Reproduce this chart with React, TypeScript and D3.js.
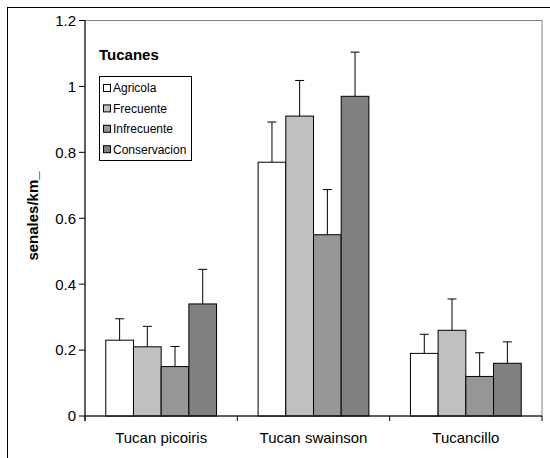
import React from "react";
import * as d3 from "d3";

const categories = ["Tucan picoiris", "Tucan swainson", "Tucancillo"];
const seriesNames = ["Agricola", "Frecuente", "Infrecuente", "Conservacion"];
const agricola = [0.23, 0.77, 0.19];
const frecuente = [0.21, 0.91, 0.26];
const infrecuente = [0.15, 0.55, 0.12];
const conservacion = [0.34, 0.97, 0.16];
const agricolaErr = [0.065, 0.122, 0.058];
const frecuenteErr = [0.062, 0.108, 0.095];
const infrecuenteErr = [0.061, 0.137, 0.072];
const conservacionErr = [0.105, 0.134, 0.065];
const yTicks = [0, 0.2, 0.4, 0.6, 0.8, 1, 1.2];
const fills = ["#ffffff", "#c0c0c0", "#969696", "#808080"];

const seriesValues = [agricola, frecuente, infrecuente, conservacion];
const seriesErrors = [agricolaErr, frecuenteErr, infrecuenteErr, conservacionErr];

const W = 550;
const H = 458;
const plot = { left: 85, right: 542, top: 20.5, bottom: 416 };
const font = "Arial, 'Liberation Sans', sans-serif";

export default function App() {
  const x = d3
    .scaleBand<string>()
    .domain(categories)
    .range([plot.left, plot.right])
    .paddingInner(0)
    .paddingOuter(0);
  const barW = x.bandwidth() / (seriesNames.length + 1.5);
  const groupPad = (x.bandwidth() - barW * seriesNames.length) / 2;
  const y = d3.scaleLinear().domain([0, 1.2]).range([plot.bottom, plot.top]);

  const boundaries = [plot.left, ...categories.map((c) => (x(c) as number) + x.bandwidth())];

  return (
    <svg
      width={W}
      height={H}
      style={{ position: "absolute", left: 0, top: 0, background: "#fff" }}
      fontFamily={font}
    >
      <rect x={0} y={0} width={W} height={H} fill="#fff" />
      {/* outer chart frame */}
      <rect x={7.5} y={7.5} width={W + 20} height={H + 20} fill="none" stroke="#000" strokeWidth={1} />

      {/* plot area border */}
      <rect
        x={plot.left}
        y={plot.top}
        width={plot.right - plot.left}
        height={plot.bottom - plot.top}
        fill="none"
        stroke="#808080"
        strokeWidth={1}
      />

      {/* bars */}
      {seriesValues.map((vals, si) =>
        vals.map((v, ci) => {
          const bx = (x(categories[ci]) as number) + groupPad + si * barW;
          return (
            <rect
              key={`b${si}-${ci}`}
              x={bx}
              y={y(v)}
              width={barW}
              height={y(0) - y(v)}
              fill={fills[si]}
              stroke="#000"
              strokeWidth={1}
            />
          );
        })
      )}

      {/* error bars (upper) */}
      {seriesValues.map((vals, si) =>
        vals.map((v, ci) => {
          const cx = (x(categories[ci]) as number) + groupPad + si * barW + barW / 2;
          const top = y(v + seriesErrors[si][ci]);
          return (
            <g key={`e${si}-${ci}`} stroke="#000" strokeWidth={1}>
              <line x1={cx} x2={cx} y1={y(v)} y2={top} />
              <line x1={cx - 4.5} x2={cx + 4.5} y1={top} y2={top} />
            </g>
          );
        })
      )}

      {/* y axis */}
      <line x1={plot.left} x2={plot.left} y1={plot.top} y2={plot.bottom + 5} stroke="#000" />
      {yTicks.map((t) => (
        <g key={`yt${t}`}>
          <line x1={plot.left - 6} x2={plot.left} y1={y(t)} y2={y(t)} stroke="#000" />
          <text
            x={plot.left - 9}
            y={y(t)}
            dy="0.36em"
            textAnchor="end"
            fontSize={15}
            fill="#000"
          >
            {d3.format("")(t)}
          </text>
        </g>
      ))}

      {/* x axis */}
      <line x1={plot.left} x2={plot.right} y1={plot.bottom} y2={plot.bottom} stroke="#000" />
      {boundaries.map((bx, i) => (
        <line key={`xt${i}`} x1={bx} x2={bx} y1={plot.bottom} y2={plot.bottom + 5} stroke="#000" />
      ))}
      {categories.map((c) => (
        <text
          key={c}
          x={(x(c) as number) + x.bandwidth() / 2}
          y={443}
          textAnchor="middle"
          fontSize={15}
          fill="#000"
        >
          {c}
        </text>
      ))}

      {/* y axis title */}
      <text
        transform={`translate(38,216) rotate(-90)`}
        textAnchor="middle"
        fontSize={15}
        fontWeight="bold"
        fill="#000"
      >
        senales/km_
      </text>

      {/* legend */}
      <text x={99} y={60} fontSize={15} fontWeight="bold" fill="#000">
        Tucanes
      </text>
      <rect x={99.5} y={76.5} width={92} height={84} fill="#fff" stroke="#000" strokeWidth={1} />
      {seriesNames.map((name, i) => {
        const cy = 88 + i * 20.4;
        return (
          <g key={name}>
            <rect x={103.5} y={cy - 3.5} width={7} height={7} fill={fills[i]} stroke="#000" strokeWidth={1} />
            <text x={113} y={cy} dy="0.36em" fontSize={12} fill="#000">
              {name}
            </text>
          </g>
        );
      })}
    </svg>
  );
}
